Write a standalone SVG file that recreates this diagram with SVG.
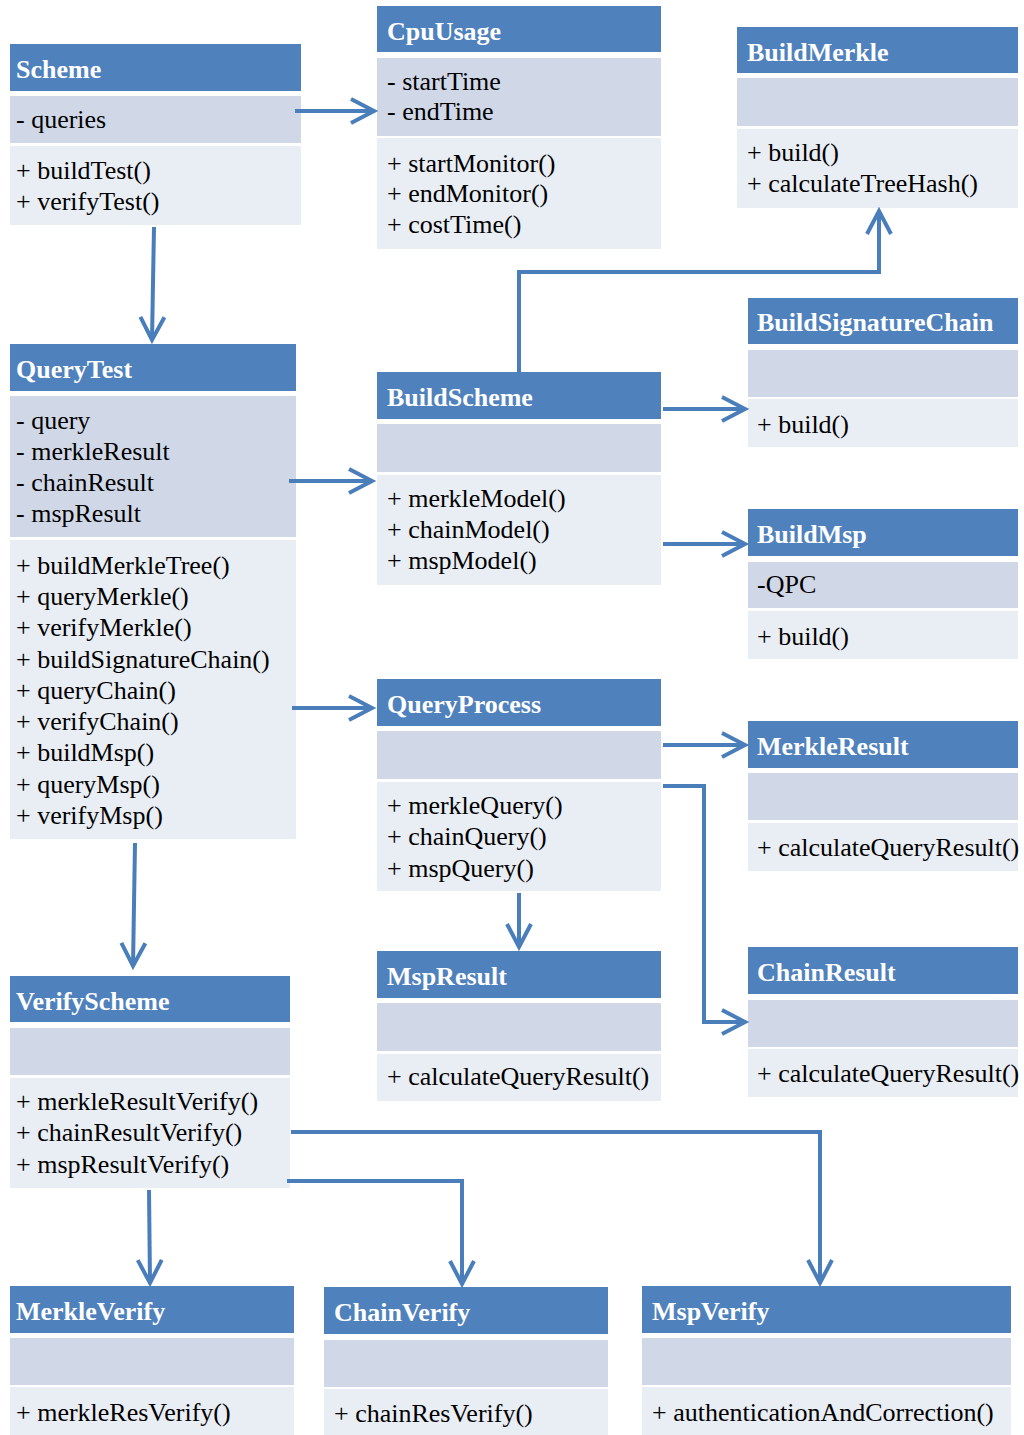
<svg xmlns="http://www.w3.org/2000/svg" width="1024" height="1435" viewBox="0 0 1024 1435">
<style>
.h{fill:#4F81BD}
.a{fill:#D0D8E8}
.m{fill:#E9EDF4}
.ht{font-family:"Liberation Serif","Times New Roman",serif;font-weight:bold;font-size:26px;fill:#FFFFFF}
.t{font-family:"Liberation Serif","Times New Roman",serif;font-size:26px;fill:#000000}
.c{fill:none;stroke:#4A7EBB;stroke-width:4}
</style>
<defs>
<marker id="arr" markerUnits="userSpaceOnUse" markerWidth="30" markerHeight="30" viewBox="0 0 30 30" refX="27" refY="15" orient="auto" overflow="visible">
<path d="M4,3 L27,15 L4,27" fill="none" stroke="#4A7EBB" stroke-width="4"/>
</marker>
</defs>
<rect width="1024" height="1435" fill="#FFFFFF"/>

<g id="Scheme">
<rect class="h" x="10" y="44" width="291" height="47"/>
<rect class="a" x="10" y="96" width="291" height="47"/>
<rect class="m" x="10" y="146" width="291" height="79"/>
<text class="ht" x="16" y="78">Scheme</text>
<text class="t" x="16" y="128">- queries</text>
<text class="t" x="16" y="179">+ buildTest()</text>
<text class="t" x="16" y="210">+ verifyTest()</text>
</g>

<g id="CpuUsage">
<rect class="h" x="377" y="6" width="284" height="46"/>
<rect class="a" x="377" y="58" width="284" height="78"/>
<rect class="m" x="377" y="138" width="284" height="111"/>
<text class="ht" x="387" y="40">CpuUsage</text>
<text class="t" x="387" y="90">- startTime</text>
<text class="t" x="387" y="120">- endTime</text>
<text class="t" x="387" y="172">+ startMonitor()</text>
<text class="t" x="387" y="202">+ endMonitor()</text>
<text class="t" x="387" y="233">+ costTime()</text>
</g>

<g id="BuildMerkle">
<rect class="h" x="737" y="27" width="281" height="46"/>
<rect class="a" x="737" y="78" width="281" height="48"/>
<rect class="m" x="737" y="129" width="281" height="79"/>
<text class="ht" x="747" y="61">BuildMerkle</text>
<text class="t" x="747" y="161">+ build()</text>
<text class="t" x="747" y="192">+ calculateTreeHash()</text>
</g>

<g id="BuildSignatureChain">
<rect class="h" x="748" y="298" width="270" height="46"/>
<rect class="a" x="748" y="350" width="270" height="47"/>
<rect class="m" x="748" y="399" width="270" height="48"/>
<text class="ht" x="757" y="331">BuildSignatureChain</text>
<text class="t" x="757" y="433">+ build()</text>
</g>

<g id="BuildMsp">
<rect class="h" x="748" y="509" width="270" height="47"/>
<rect class="a" x="748" y="562" width="270" height="46"/>
<rect class="m" x="748" y="611" width="270" height="48"/>
<text class="ht" x="757" y="543">BuildMsp</text>
<text class="t" x="757" y="593">-QPC</text>
<text class="t" x="757" y="645">+ build()</text>
</g>

<g id="MerkleResult">
<rect class="h" x="748" y="721" width="270" height="47"/>
<rect class="a" x="748" y="773" width="270" height="47"/>
<rect class="m" x="748" y="823" width="270" height="48"/>
<text class="ht" x="757" y="755">MerkleResult</text>
<text class="t" x="757" y="856">+ calculateQueryResult()</text>
</g>

<g id="ChainResult">
<rect class="h" x="748" y="947" width="270" height="47"/>
<rect class="a" x="748" y="1000" width="270" height="47"/>
<rect class="m" x="748" y="1049" width="270" height="48"/>
<text class="ht" x="757" y="981">ChainResult</text>
<text class="t" x="757" y="1082">+ calculateQueryResult()</text>
</g>

<g id="QueryTest">
<rect class="h" x="10" y="344" width="286" height="47"/>
<rect class="a" x="10" y="396" width="286" height="141"/>
<rect class="m" x="10" y="540" width="286" height="299"/>
<text class="ht" x="16" y="378">QueryTest</text>
<text class="t" x="16" y="429">- query</text>
<text class="t" x="16" y="460">- merkleResult</text>
<text class="t" x="16" y="491">- chainResult</text>
<text class="t" x="16" y="522">- mspResult</text>
<text class="t" x="16" y="574">+ buildMerkleTree()</text>
<text class="t" x="16" y="605">+ queryMerkle()</text>
<text class="t" x="16" y="636">+ verifyMerkle()</text>
<text class="t" x="16" y="668">+ buildSignatureChain()</text>
<text class="t" x="16" y="699">+ queryChain()</text>
<text class="t" x="16" y="730">+ verifyChain()</text>
<text class="t" x="16" y="761">+ buildMsp()</text>
<text class="t" x="16" y="793">+ queryMsp()</text>
<text class="t" x="16" y="824">+ verifyMsp()</text>
</g>

<g id="BuildScheme">
<rect class="h" x="377" y="372" width="284" height="47"/>
<rect class="a" x="377" y="424" width="284" height="48"/>
<rect class="m" x="377" y="475" width="284" height="110"/>
<text class="ht" x="387" y="406">BuildScheme</text>
<text class="t" x="387" y="507">+ merkleModel()</text>
<text class="t" x="387" y="538">+ chainModel()</text>
<text class="t" x="387" y="569">+ mspModel()</text>
</g>

<g id="QueryProcess">
<rect class="h" x="377" y="679" width="284" height="47"/>
<rect class="a" x="377" y="731" width="284" height="48"/>
<rect class="m" x="377" y="782" width="284" height="109"/>
<text class="ht" x="387" y="713">QueryProcess</text>
<text class="t" x="387" y="814">+ merkleQuery()</text>
<text class="t" x="387" y="845">+ chainQuery()</text>
<text class="t" x="387" y="877">+ mspQuery()</text>
</g>

<g id="MspResult">
<rect class="h" x="377" y="951" width="284" height="47"/>
<rect class="a" x="377" y="1003" width="284" height="48"/>
<rect class="m" x="377" y="1054" width="284" height="47"/>
<text class="ht" x="387" y="985">MspResult</text>
<text class="t" x="387" y="1085">+ calculateQueryResult()</text>
</g>

<g id="VerifyScheme">
<rect class="h" x="10" y="976" width="280" height="46"/>
<rect class="a" x="10" y="1028" width="280" height="47"/>
<rect class="m" x="10" y="1078" width="280" height="110"/>
<text class="ht" x="16" y="1010">VerifyScheme</text>
<text class="t" x="16" y="1110">+ merkleResultVerify()</text>
<text class="t" x="16" y="1141">+ chainResultVerify()</text>
<text class="t" x="16" y="1173">+ mspResultVerify()</text>
</g>

<g id="MerkleVerify">
<rect class="h" x="10" y="1286" width="284" height="47"/>
<rect class="a" x="10" y="1338" width="284" height="47"/>
<rect class="m" x="10" y="1387" width="284" height="48"/>
<text class="ht" x="16" y="1320">MerkleVerify</text>
<text class="t" x="16" y="1421">+ merkleResVerify()</text>
</g>

<g id="ChainVerify">
<rect class="h" x="324" y="1287" width="284" height="47"/>
<rect class="a" x="324" y="1340" width="284" height="47"/>
<rect class="m" x="324" y="1389" width="284" height="46"/>
<text class="ht" x="334" y="1321">ChainVerify</text>
<text class="t" x="334" y="1422">+ chainResVerify()</text>
</g>

<g id="MspVerify">
<rect class="h" x="642" y="1286" width="369" height="47"/>
<rect class="a" x="642" y="1338" width="369" height="47"/>
<rect class="m" x="642" y="1387" width="369" height="48"/>
<text class="ht" x="652" y="1320">MspVerify</text>
<text class="t" x="652" y="1421">+ authenticationAndCorrection()</text>
</g>

<g id="connectors">
<path class="c" d="M295,111 L374,111" marker-end="url(#arr)"/>
<path class="c" d="M154,227 L152,340" marker-end="url(#arr)"/>
<path class="c" d="M289,481 L372,481" marker-end="url(#arr)"/>
<path class="c" d="M292,708 L372,708" marker-end="url(#arr)"/>
<path class="c" d="M135,843 L133,966" marker-end="url(#arr)"/>
<path class="c" d="M519,372 L519,272 L879,272 L879,211" marker-end="url(#arr)"/>
<path class="c" d="M663,409 L745,409" marker-end="url(#arr)"/>
<path class="c" d="M663,544 L745,544" marker-end="url(#arr)"/>
<path class="c" d="M663,745 L745,745" marker-end="url(#arr)"/>
<path class="c" d="M663,786 L704,786 L704,1022 L745,1022" marker-end="url(#arr)"/>
<path class="c" d="M519,893 L519,947" marker-end="url(#arr)"/>
<path class="c" d="M149,1190 L150,1283" marker-end="url(#arr)"/>
<path class="c" d="M287,1181 L462,1181 L462,1284" marker-end="url(#arr)"/>
<path class="c" d="M291,1132 L820,1132 L820,1283" marker-end="url(#arr)"/>
</g>
</svg>
